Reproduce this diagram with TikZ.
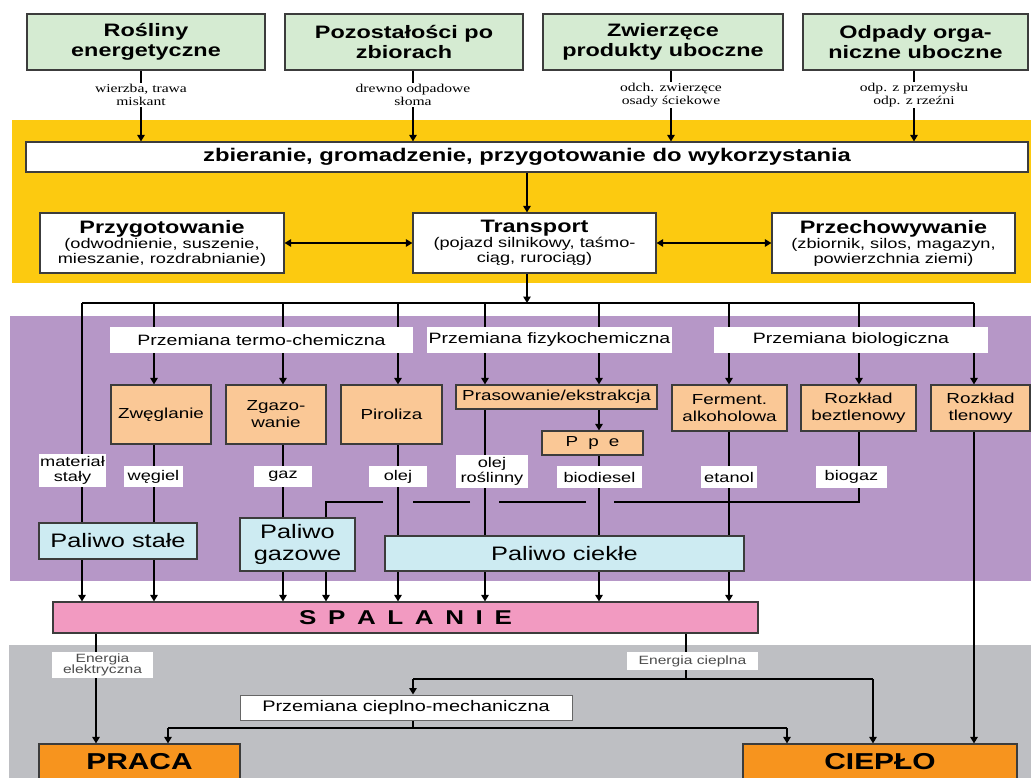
\documentclass[tikz,border=0pt]{standalone}
\usepackage{fontspec}
\setmainfont{Liberation Sans}[FakeStretch=1.3]
\newfontfamily\srcfont{Liberation Serif}[FakeStretch=1.3]
\usetikzlibrary{arrows.meta,calc}
\pgfdeclarelayer{back}
\pgfdeclarelayer{lines}
\pgfsetlayers{back,lines,main}
\definecolor{greenbox}{HTML}{D5EBD2}
\definecolor{peach}{HTML}{FAC896}
\definecolor{cyanbox}{HTML}{CDEBF2}
\definecolor{pinkbox}{HTML}{F29AC1}
\definecolor{orangebox}{HTML}{F7941E}
\definecolor{yellowband}{HTML}{FCCA10}
\definecolor{purpleband}{HTML}{B697C7}
\definecolor{greyband}{HTML}{BEBFC3}
\definecolor{bdr}{HTML}{3C3C3C}
\begin{document}
\begin{tikzpicture}[x=1pt,y=-1pt,
  boxbase/.style={draw=bdr, line width=1.2pt, inner sep=0pt, align=center},
  gbox/.style={boxbase, fill=greenbox, minimum height=56pt, font=\fontsize{18}{20}\selectfont\bfseries},
  src/.style={inner sep=1.5pt, align=center, font=\srcfont\fontsize{12}{12.5}\selectfont},
  wbox/.style={boxbase, fill=white},
  hdr/.style={fill=white, inner sep=0pt, minimum height=26pt, font=\fontsize{15}{17}\selectfont},
  proc/.style={boxbase, fill=peach, font=\fontsize{14.5}{17}\selectfont},
  outl/.style={fill=white, inner sep=0pt, align=center, font=\fontsize{14}{15}\selectfont},
  fuel/.style={boxbase, fill=cyanbox, font=\fontsize{19.5}{22}\selectfont},
  elab/.style={fill=white, inner sep=0pt, align=center, text=black!70, font=\fontsize{12}{11.5}\selectfont},
  conn/.style={line width=1.4pt, black},
  arr/.style={conn, -{Triangle[length=6.5pt,width=7.5pt]}},
  darr/.style={conn, {Triangle[length=6.5pt,width=7.5pt]}-{Triangle[length=6.5pt,width=7.5pt]}},
]
\clip (0,0) rectangle (1031,778);
\useasboundingbox (0,0) rectangle (1031,778);

% background bands
\begin{pgfonlayer}{back}
  \fill[white] (0,0) rectangle (1031,778);
  \fill[yellowband] (12,120) rectangle (1031,283);
  \fill[purpleband] (10,316) rectangle (1031,581);
  \fill[greyband] (9,645) rectangle (1031,778);
\end{pgfonlayer}

% sources
\node[gbox, minimum width=238pt] (g1) at (146,42) {Rośliny\\energetyczne};
\node[gbox, minimum width=238pt] (g2) at (404,42) {Pozostałości po\\zbiorach};
\node[gbox, minimum width=240pt] (g3) at (663,42) {Zwierzęce\\produkty uboczne};
\node[gbox, minimum width=225pt] (g4) at (915.5,42) {Odpady orga-\\niczne uboczne};

\node[src] (l1) at (141,95) {wierzba, trawa\\miskant};
\node[src] (l2) at (413,95) {drewno odpadowe\\słoma};
\node[src] (l3) at (671,95) {odch. zwierzęce\\osady ściekowe};
\node[src] (l4) at (914,95) {odp. z przemysłu\\odp. z rzeźni};

% yellow part
\node[wbox, minimum width=1002pt, minimum height=30pt, font=\fontsize{18.3}{20}\selectfont\bfseries] (zb) at (527,157)
  {zbieranie, gromadzenie, przygotowanie do wykorzystania};

\node[wbox, minimum width=244pt, minimum height=60pt, font=\fontsize{14}{15}\selectfont] (pg) at (162,243)
  {{\fontsize{18}{18}\selectfont\bfseries Przygotowanie}\\(odwodnienie, suszenie,\\mieszanie, rozdrabnianie)};
\node[wbox, minimum width=243pt, minimum height=60pt, font=\fontsize{14}{15}\selectfont] (tr) at (534.5,243)
  {{\fontsize{18}{18}\selectfont\bfseries Transport}\\(pojazd silnikowy, taśmo-\\ciąg, rurociąg)};
\node[wbox, minimum width=243pt, minimum height=60pt, font=\fontsize{14}{15}\selectfont] (ph) at (893.5,243)
  {{\fontsize{18}{18}\selectfont\bfseries Przechowywanie}\\(zbiornik, silos, magazyn,\\powierzchnia ziemi)};

% distribution bar coordinates
\coordinate (bt) at (527,303);
\coordinate (b1) at (82,303);
\coordinate (b2) at (154,303);
\coordinate (b3) at (283,303);
\coordinate (b4) at (398,303);
\coordinate (b5) at (485,303);
\coordinate (b6) at (599,303);
\coordinate (b7) at (729,303);
\coordinate (b8) at (859,303);
\coordinate (b9) at (974,303);

% purple part
\node[hdr, minimum width=303pt] (h1) at (261.5,340) {Przemiana termo-chemiczna};
\node[hdr, minimum width=245pt] (h2) at (549.5,340) {Przemiana fizykochemiczna};
\node[hdr, minimum width=274pt] (h3) at (851,340) {Przemiana biologiczna};

\node[proc, minimum width=100pt, minimum height=59pt] (p1) at (161,414.5) {Zwęglanie};
\node[proc, minimum width=100pt, minimum height=59pt] (p2) at (276,414.5) {Zgazo-\\wanie};
\node[proc, minimum width=101pt, minimum height=59pt] (p3) at (391.5,414.5) {Piroliza};
\node[proc, minimum width=201pt, minimum height=24pt] (p4) at (556.5,397) {Prasowanie/ekstrakcja};
\node[proc, minimum width=101pt, minimum height=24pt] (p5) at (592.5,443) {P\hspace{10pt}p\hspace{10pt}e};
\node[proc, minimum width=115pt, minimum height=46pt] (p6) at (729.5,408) {Ferment.\\alkoholowa};
\node[proc, minimum width=115pt, minimum height=46pt] (p7) at (858.5,408) {Rozkład\\beztlenowy};
\node[proc, minimum width=99pt, minimum height=46pt] (p8) at (980.5,408) {Rozkład\\tlenowy};

\node[outl, minimum width=67pt, minimum height=33pt] (o0) at (72.5,470.5) {materiał\\stały};
\node[outl, minimum width=59pt, minimum height=21pt] (o1) at (153.5,476.5) {węgiel};
\node[outl, minimum width=58pt, minimum height=21pt] (o2) at (283,476.5) {gaz};
\node[outl, minimum width=58pt, minimum height=21pt] (o3) at (398,476.5) {olej};
\node[outl, minimum width=72pt, minimum height=33pt] (o4) at (492,471.5) {olej\\roślinny};
\node[outl, minimum width=85pt, minimum height=22pt] (o5) at (599.5,477) {biodiesel};
\node[outl, minimum width=56pt, minimum height=22pt] (o6) at (729,477) {etanol};
\node[outl, minimum width=71pt, minimum height=22pt] (o7) at (851.5,477) {biogaz};

\node[fuel, minimum width=158pt, minimum height=36pt] (f1) at (118,541) {Paliwo stałe};
\node[fuel, minimum width=115pt, minimum height=53pt] (f2) at (297.5,544.5) {Paliwo\\gazowe};
\node[fuel, minimum width=359pt, minimum height=35pt] (f3) at (564.5,553.5) {Paliwo ciekłe};

\node[boxbase, fill=pinkbox, minimum width=705pt, minimum height=31pt,
  font=\fontsize{20}{20}\selectfont\bfseries\addfontfeatures{LetterSpace=22}] (sp) at (405.5,617.5) {S P A L A N I E};

% grey part
\node[elab, minimum width=101pt, minimum height=26pt] (e1) at (102.5,665) {Energia\\elektryczna};
\node[elab, minimum width=131pt, minimum height=18pt] (e2) at (692.5,661) {Energia cieplna};
\node[boxbase, fill=white, draw=black!60, line width=1pt, minimum width=332pt, minimum height=25pt,
  font=\fontsize{15.3}{16}\selectfont] (pcm) at (406,707.5) {Przemiana cieplno-mechaniczna};
\node[boxbase, fill=orangebox, minimum width=201pt, minimum height=36pt, font=\fontsize{23}{24}\selectfont\bfseries] (pr) at (139.5,762) {PRACA};
\node[boxbase, fill=orangebox, minimum width=274pt, minimum height=36pt, font=\fontsize{23}{24}\selectfont\bfseries] (ci) at (880,762) {CIEPŁO};

\coordinate (xe) at (96,0);
\coordinate (xc) at (686,679);
\coordinate (hl) at (413,679);
\coordinate (hr) at (873,679);
\coordinate (ml) at (168,728);
\coordinate (mr) at (787,728);
\coordinate (mm) at (413,728);

% biogas route
\coordinate (gA) at (859,502);
\coordinate (gB) at (614,502);
\coordinate (gC) at (586,502);
\coordinate (gD) at (499,502);
\coordinate (gE) at (470,502);
\coordinate (gF) at (413,502);
\coordinate (gG) at (383,502);
\coordinate (gH) at (326,502);

\begin{pgfonlayer}{lines}
  % sources to collection
  \foreach \g/\l in {g1/l1,g2/l2,g3/l3,g4/l4}{
    \draw[conn] (\g.south -| \l) -- (\l.north);
    \draw[arr] (\l.south) -- (zb.north -| \l);
  }
  \draw[arr] (zb.south -| bt) -- (tr.north -| bt);
  \draw[darr] (pg.east) -- (tr.west);
  \draw[darr] (tr.east) -- (ph.west);
  \draw[arr] (tr.south -| bt) -- (bt);
  \draw[conn] (b1) -- (b9);
  % columns
  \draw[arr] (b1) -- (b1 |- sp.north);
  \draw[arr] (b2) -- (b2 |- p1.north);
  \draw[arr] (b2 |- p1.south) -- (b2 |- sp.north);
  \draw[arr] (b3) -- (b3 |- p2.north);
  \draw[arr] (b3 |- p2.south) -- (b3 |- sp.north);
  \draw[arr] (b4) -- (b4 |- p3.north);
  \draw[arr] (b4 |- p3.south) -- (b4 |- sp.north);
  \draw[arr] (b5) -- (b5 |- p4.north);
  \draw[arr] (b5 |- p4.south) -- (b5 |- sp.north);
  \draw[arr] (b6) -- (b6 |- p4.north);
  \draw[arr] (b6 |- p4.south) -- (b6 |- p5.north);
  \draw[arr] (b6 |- p5.south) -- (b6 |- sp.north);
  \draw[arr] (b7) -- (b7 |- p6.north);
  \draw[arr] (b7 |- p6.south) -- (b7 |- sp.north);
  \draw[arr] (b8) -- (b8 |- p7.north);
  \draw[conn] (b8 |- p7.south) -- (gA) -- (gB);
  \draw[conn] (gC) -- (gD);
  \draw[conn] (gE) -- (gF);
  \draw[arr] (gG) -- (gH) -- (gH |- sp.north);
  \draw[arr] (b9) -- (b9 |- p8.north);
  \draw[arr] (b9 |- p8.south) -- (b9 |- ci.north);
  % energy
  \draw[arr] (sp.south -| xe) -- (pr.north -| xe);
  \draw[conn] (sp.south -| xc) -- (xc);
  \draw[conn] (hl) -- (hr);
  \draw[arr] (hl) -- (pcm.north -| hl);
  \draw[arr] (hr) -- (ci.north -| hr);
  \draw[conn] (pcm.south -| mm) -- (mm);
  \draw[conn] (ml) -- (mr);
  \draw[arr] (ml) -- (pr.north -| ml);
  \draw[arr] (mr) -- (ci.north -| mr);
\end{pgfonlayer}
\end{tikzpicture}
\end{document}
